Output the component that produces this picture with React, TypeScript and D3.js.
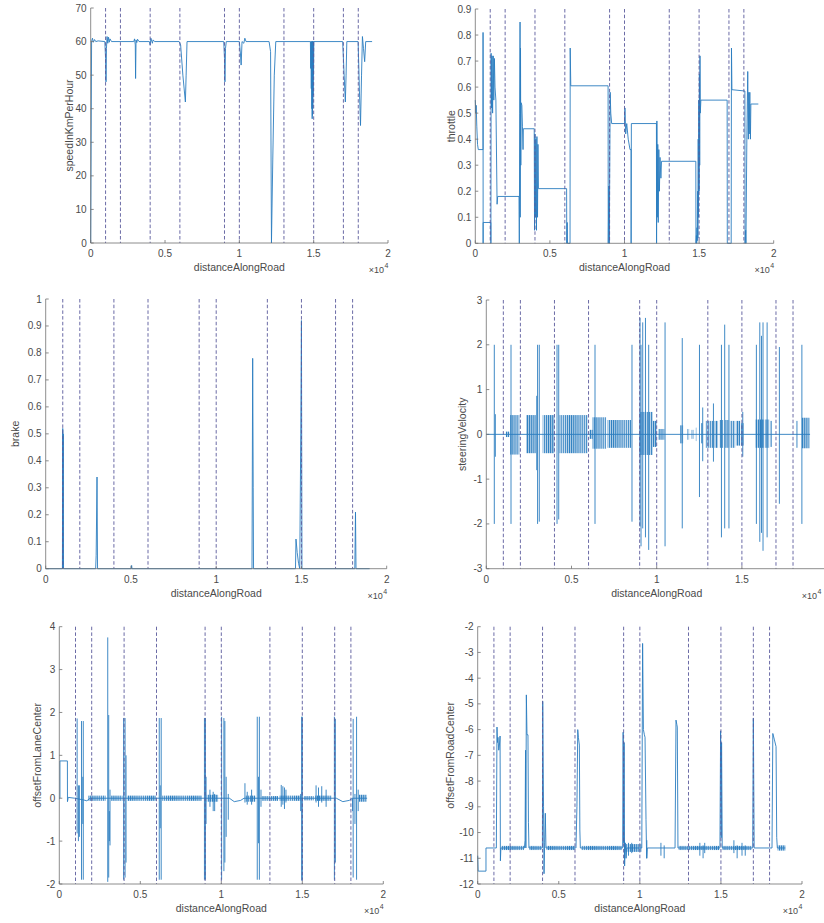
import React from "react";
import * as d3 from "d3";

type Pt = [number, number];
type Band = [number, number, number, number]; // x0, x1, hi, lo
type Spike = [number, number, number]; // x, hi, lo

// ---------- shared axis data ----------
const xTickValues = [0, 5000, 10000, 15000, 20000];
const xTickLabels = ["0", "0.5", "1", "1.5", "2"];
const eventDistances = [1000, 2000, 4000, 6000, 9000, 10000, 13000, 15000, 17000, 18000];

// ---------- speedInKmPerHour ----------
const speedTicks = [0, 10, 20, 30, 40, 50, 60, 70];
const speedTrace: Pt[] = [
  [0, 0], [60, 60], [120, 61], [180, 59.8], [260, 60.6], [340, 60], [500, 60.2], [950, 60],
  [1000, 55], [1030, 48], [1060, 58], [1100, 61.5], [1150, 59.5], [1200, 61.3], [1250, 59.8],
  [1300, 60.8], [1400, 60], [2900, 60], [2950, 60.8], [3000, 59], [3020, 49], [3050, 60.5],
  [3100, 59.7], [3150, 60.7], [3250, 60], [3950, 60], [4000, 59], [4050, 61], [4150, 59.5],
  [4200, 60.5], [4300, 60], [5950, 60], [6050, 59], [6200, 50], [6370, 42], [6420, 50],
  [6480, 60], [8950, 60], [9000, 55], [9030, 48], [9070, 58], [9120, 60], [10000, 60],
  [10080, 56], [10120, 53], [10180, 60], [10300, 59.5], [10370, 61], [10450, 60], [12000, 60],
  [12100, 57], [12160, 0], [12250, 25], [12350, 50], [12450, 60], [14750, 60],
  [14780, 60], [14800, 52], [14820, 60], [14840, 46], [14860, 60], [14880, 40], [14890, 60],
  [14900, 37], [14910, 60], [14920, 38], [14930, 60], [14940, 40], [14950, 60], [14960, 44],
  [14975, 60], [14990, 50], [15010, 60], [16950, 60], [17050, 50], [17130, 42], [17180, 50],
  [17230, 60], [17990, 60], [18080, 45], [18150, 35], [18220, 50], [18280, 61.5], [18350, 58],
  [18430, 54], [18500, 60], [18930, 60],
];

// ---------- throttle ----------
const throttleTicks = [0, 0.1, 0.2, 0.3, 0.4, 0.5, 0.6, 0.7, 0.8, 0.9];
const throttleTrace: Pt[] = [
  [0, 0.55], [30, 0.5], [60, 0.53], [100, 0.45], [150, 0.38], [200, 0.36], [520, 0.36],
  [520, 0.81], [525, 0], [525, 0.08], [1040, 0.08], [1045, 0], [1060, 0.73], [1090, 0.52],
  [1120, 0.72], [1160, 0.5], [1200, 0.72], [1240, 0.55], [1280, 0.71], [1320, 0.6],
  [1380, 0.55], [1460, 0.15], [1500, 0.18], [2930, 0.18], [2950, 0], [2980, 0.5], [3000, 0.85],
  [3010, 0.1], [3030, 0.75], [3050, 0.3], [3070, 0.54], [3120, 0.53], [3160, 0.45],
  [3200, 0.36], [3220, 0.44], [3950, 0.44], [3970, 0.05], [4000, 0.42], [4030, 0.1],
  [4060, 0.4], [4100, 0.05], [4130, 0.41], [4170, 0.1], [4200, 0.38], [4230, 0.21],
  [6120, 0.21], [6130, 0], [6160, 0.08], [6180, 0], [6350, 0], [6360, 0.75], [6400, 0.605],
  [8900, 0.605], [8910, 0], [8950, 0.22], [8980, 0], [9040, 0.58], [9080, 0.5], [9140, 0.46],
  [10000, 0.46], [10030, 0.52], [10080, 0.42], [10150, 0.46], [10250, 0.4], [10370, 0.36],
  [10440, 0.36], [10445, 0], [10460, 0.46], [12140, 0.46], [12150, 0], [12170, 0.47],
  [12200, 0.1], [12230, 0.38], [12260, 0.08], [12300, 0.36], [12340, 0.2], [12380, 0.33],
  [12440, 0.25], [12480, 0.315], [14780, 0.315], [14790, 0], [14820, 0.03], [14840, 0],
  [14860, 0.06], [14880, 0.01], [14900, 0.2], [14920, 0.02], [14940, 0.4], [14960, 0.1],
  [14980, 0.55], [15000, 0.2], [15020, 0.65], [15040, 0.3], [15060, 0.72], [15080, 0.5],
  [15120, 0.55], [16880, 0.55], [16890, 0], [17150, 0], [17170, 0.75], [17200, 0.59],
  [18070, 0.585], [18080, 0], [18120, 0.05], [18140, 0], [18200, 0.4], [18260, 0.66],
  [18300, 0.4], [18330, 0.58], [18360, 0.42], [18400, 0.58], [18440, 0.4], [18470, 0.535],
  [18970, 0.535],
];

// ---------- brake ----------
const brakeTicks = [0, 0.1, 0.2, 0.3, 0.4, 0.5, 0.6, 0.7, 0.8, 0.9, 1];
const brakeTrace: Pt[] = [
  [0, 0], [980, 0], [1000, 0.52], [1010, 0], [1030, 0.5], [1045, 0], [2930, 0], [2960, 0.05],
  [3010, 0.34], [3040, 0], [5020, 0], [5040, 0.012], [5060, 0], [12100, 0], [12140, 0.78],
  [12170, 0.3], [12190, 0], [14650, 0], [14680, 0.11], [14750, 0.06], [14830, 0.02],
  [14900, 0], [14960, 0.5], [15000, 0.92], [15030, 0], [18130, 0], [18170, 0.21],
  [18200, 0], [19000, 0],
];

// ---------- steeringVelocity ----------
const steerTicks = [-3, -2, -1, 0, 1, 2, 3];
const steerTrace: Pt[] = [[0, 0], [19000, 0]];
const steerBands: Band[] = [
  [1150, 1350, 0.06, -0.06], [1400, 1940, 0.43, -0.45], [2330, 2920, 0.43, -0.42],
  [3310, 3990, 0.43, -0.42], [4290, 5950, 0.43, -0.42], [6050, 6240, 0.1, -0.1],
  [6240, 7030, 0.38, -0.32], [7120, 8500, 0.32, -0.3], [8980, 9770, 0.5, -0.46],
  [9770, 10000, 0.3, -0.28], [10100, 10450, 0.12, -0.12], [11370, 11550, 0.2, -0.2],
  [11800, 11900, 0.12, -0.12], [12050, 12150, 0.1, -0.1], [12300, 12350, 0.15, -0.15],
  [12600, 12700, 0.25, -0.2], [12880, 13340, 0.3, -0.3], [13400, 13600, 0.3, -0.3],
  [13700, 13900, 0.32, -0.3], [14000, 14250, 0.32, -0.3], [14300, 14600, 0.3, -0.3],
  [14650, 14900, 0.3, -0.25], [14950, 15100, 0.25, -0.25], [15780, 16000, 0.33, -0.3],
  [16050, 16300, 0.33, -0.3], [16350, 16600, 0.33, -0.3], [16650, 16760, 0.3, -0.28],
  [18520, 18970, 0.37, -0.31],
];
const steerSpikes: Spike[] = [
  [470, 2.0, -2.0], [530, 0.45, -0.5], [1450, 2.0, -2.0], [2960, 0.86, -0.8], [3010, 2.0, -2.0],
  [3110, 2.0, -1.95], [4150, 2.0, -2.0], [4250, 2.0, -1.9], [6380, 2.0, -2.0], [8550, 2.0, -1.95],
  [9020, 2.6, -2.06], [9080, 2.0, -2.5], [9180, 2.5, -2.1], [9340, 2.6, -2.3], [9530, 2.0, -2.58],
  [10490, 2.5, -2.5], [11500, 2.15, -2.1], [12510, 2.0, -1.4], [12700, 0.6, -0.6],
  [13330, 0.69, -0.61], [13800, 2.0, -2.3], [13990, 2.45, -2.1], [14240, 2.0, -2.1],
  [15050, 0.5, -0.5], [15850, 2.0, -2.0], [16050, 2.5, -2.4], [16150, 2.2, -2.2],
  [16240, 2.5, -2.6], [16480, 2.5, -2.3], [17200, 1.95, -1.55], [18230, 0.3, -0.3],
  [18520, 2.0, -2.0],
];

// ---------- offsetFromLaneCenter ----------
const laneTicks = [-2, -1, 0, 1, 2, 3, 4];
const laneTrace: Pt[] = [
  [0, 0], [40, 0], [40, 0.87], [500, 0.87], [505, -0.08], [550, 0.02], [950, 0], [1500, -0.04],
  [1700, -0.06], [1900, 0], [10500, 0], [10800, -0.08], [11200, -0.05], [11400, 0],
  [17100, 0], [17500, -0.08], [17900, -0.05], [18100, 0], [19000, 0],
];
const laneBands: Band[] = [
  [1800, 2850, 0.06, -0.06], [3200, 3900, 0.06, -0.06], [4200, 5950, 0.06, -0.06],
  [6350, 8800, 0.06, -0.06], [9100, 9800, 0.08, -0.08], [11500, 12100, 0.06, -0.08],
  [12500, 13500, 0.05, -0.06], [13600, 14900, 0.06, -0.06], [15100, 15700, 0.05, -0.05],
  [15800, 16800, 0.06, -0.06], [18500, 18970, 0.08, -0.08],
];
const laneSpikes: Spike[] = [
  [1100, 1.86, -0.82], [1180, 0.3, -1.0], [1240, 0.3, -0.9], [1370, 1.8, -1.9], [1450, 0.5, -0.6],
  [1480, 1.8, -1.9], [2990, 3.75, -1.95], [3050, 1.94, -1.85], [3090, -0.3, -1.0],
  [3130, 0.2, -1.1], [3970, 1.87, -1.9], [4060, 1.87, -1.85], [4120, 1.0, -1.5],
  [6170, 1.87, -1.9], [6230, 0.3, -0.7], [6290, 1.87, -1.9], [8960, 1.87, -1.9],
  [9020, 1.87, -1.9], [9060, 0.5, -0.6], [9300, 0.2, -0.2], [9500, 0.15, -0.3],
  [9590, 0.1, -0.3], [10020, 1.9, -1.9], [10160, 1.87, -1.7], [10220, 1.8, -1.5],
  [10300, 0.5, -0.9], [10430, 0.1, -0.5], [11460, 0.35, -0.1], [11600, 0.15, -0.15],
  [11870, 0.2, -0.15], [12220, 1.9, -1.9], [12300, 0.5, -1.05], [12350, 1.9, -1.9],
  [12450, 0.2, -0.2], [13700, 0.31, -0.2], [13800, 0.28, -0.15], [13900, 0.25, -0.25],
  [13990, 0.2, -0.1], [14900, 0.1, -0.3], [14960, 1.9, -1.92], [15000, 1.9, -1.9],
  [15850, 0.3, -0.1], [16000, 0.25, -0.2], [16200, 0.28, -0.1], [16470, 0.2, -0.2],
  [16980, 1.9, -1.9], [17040, 1.85, -1.5], [18100, 0, -0.3], [18140, 1.85, -1.85],
  [18250, 0.1, -0.6], [18350, 1.9, -1.9], [18450, 0.2, -0.3],
];

// ---------- offsetFromRoadCenter ----------
const roadTicks = [-12, -11, -10, -9, -8, -7, -6, -5, -4, -3, -2];
const roadTrace: Pt[] = [
  [0, -10.9], [30, -11.5], [510, -11.5], [510, -10.6], [1150, -10.6], [1190, -5.9],
  [1220, -6.5], [1250, -6.3], [1300, -6.8], [1340, -6.6], [1380, -6.25], [1400, -11.1],
  [1430, -10.6], [2880, -10.6], [2920, -10.3], [2950, -6.8], [2970, -10.6], [3000, -4.65],
  [3040, -6.2], [3100, -6.2], [3130, -9.6], [3160, -10.6], [3990, -10.6], [4010, -4.9],
  [4060, -9.0], [4090, -11.6], [4130, -10.4], [4170, -9.25], [4210, -10.6], [6060, -10.6],
  [6120, -9.0], [6170, -6.0], [6210, -6.3], [6270, -6.6], [6300, -9.9], [6330, -10.6],
  [8940, -10.6], [8970, -6.1], [9000, -10.4], [9030, -6.5], [9060, -11.3], [9100, -10.4],
  [9150, -11.0], [9200, -10.6], [10120, -10.6], [10170, -2.65], [10220, -6.0], [10280, -6.2],
  [10320, -6.3], [10380, -9.5], [10420, -11.0], [10460, -10.6], [12170, -10.6],
  [12230, -5.63], [12280, -5.8], [12310, -5.9], [12350, -10.6], [14940, -10.6],
  [14980, -6.05], [15020, -10.2], [15040, -6.5], [15080, -10.6], [16960, -10.6],
  [17000, -5.56], [17050, -10.6], [18150, -10.6], [18200, -6.15], [18300, -6.4],
  [18400, -6.66], [18440, -10.2], [18480, -10.6], [18970, -10.6],
];
const roadBands: Band[] = [
  [1450, 2850, -10.52, -10.68], [3200, 3950, -10.52, -10.68], [4250, 6000, -10.52, -10.68],
  [6400, 8900, -10.52, -10.68], [9100, 10100, -10.45, -10.75], [12400, 14900, -10.52, -10.68],
  [15100, 16900, -10.52, -10.68], [18500, 18970, -10.5, -10.7],
];
const roadSpikes: Spike[] = [
  [9050, -10.3, -11.0], [9300, -10.4, -10.9], [9500, -10.4, -10.8], [10430, -10.3, -11.0],
  [11300, -10.4, -10.9], [11500, -10.5, -11.0], [13700, -10.4, -10.9], [13900, -10.5, -11.0],
  [14000, -10.4, -10.8], [15800, -10.3, -10.8], [16000, -10.5, -11.0], [16300, -10.4, -10.9],
  [16500, -10.5, -10.9],
];

// ---------- styling ----------
const W = 824;
const H = 923;
const LINE = "#2a7dbf";
const EVENT = "#5a5a9c";
const AXIS = "#707070";
const TEXT = "#4a4a4a";
const FONT = "'Liberation Sans', Arial, Helvetica, sans-serif";

type Box = { l: number; r: number; t: number; b: number };

function fmt(v: number) {
  return String(+v.toFixed(2));
}

function Panel(props: {
  id: string;
  box: Box;
  yDomain: [number, number];
  yTicks: number[];
  ylabel: string;
  ylabelGap: number;
  trace: Pt[];
  bands?: Band[];
  spikes?: Spike[];
}) {
  const { id, box, yDomain, yTicks, ylabel, ylabelGap, trace, bands = [], spikes = [] } = props;
  const x = d3.scaleLinear().domain([0, 20000]).range([box.l, box.r]);
  const y = d3.scaleLinear().domain(yDomain).range([box.b, box.t]);
  const line = d3.line<Pt>().x((d) => x(d[0])).y((d) => y(d[1]));
  const midY = (box.t + box.b) / 2;
  // exponent label: keep inside the page
  const expEnd = Math.min(box.r - 4, W - 7);
  return (
    <g>
      <defs>
        <pattern id={`hatch-${id}`} width={2.1} height={4} patternUnits="userSpaceOnUse">
          <rect x={0} y={0} width={1.0} height={4} fill={LINE} />
        </pattern>
      </defs>
      {/* bands of dense oscillation */}
      {bands.map((d, i) => (
        <g key={`b${i}`}>
          <rect x={x(d[0])} y={y(d[2])} width={x(d[1]) - x(d[0])} height={y(d[3]) - y(d[2])}
            fill={LINE} fillOpacity={0.25} />
          <rect x={x(d[0])} y={y(d[2])} width={x(d[1]) - x(d[0])} height={y(d[3]) - y(d[2])}
            fill={`url(#hatch-${id})`} />
        </g>
      ))}
      <path d={line(trace) || ""} fill="none" stroke={LINE} strokeWidth={0.9} strokeLinejoin="round" />
      {spikes.map((d, i) => (
        <line key={`s${i}`} x1={x(d[0])} x2={x(d[0])} y1={y(d[1])} y2={y(d[2])}
          stroke={LINE} strokeWidth={0.9} />
      ))}
      {/* event lines */}
      {eventDistances.map((e) => (
        <line key={`e${e}`} x1={x(e)} x2={x(e)} y1={box.t} y2={box.b}
          stroke={EVENT} strokeWidth={0.9} strokeDasharray="3.5,2.2" />
      ))}
      {/* axes */}
      <line x1={box.l} x2={box.l} y1={box.t} y2={box.b} stroke={AXIS} strokeWidth={0.8} />
      <line x1={box.l} x2={box.r} y1={box.b} y2={box.b} stroke={AXIS} strokeWidth={0.8} />
      {yTicks.map((v) => (
        <g key={`yt${v}`}>
          <line x1={box.l} x2={box.l + 3} y1={y(v)} y2={y(v)} stroke={AXIS} strokeWidth={0.8} />
          <text x={box.l - 4} y={y(v)} textAnchor="end" dominantBaseline="central"
            fontSize={10} fill={TEXT} fontFamily={FONT}>{fmt(v)}</text>
        </g>
      ))}
      {xTickValues.map((v, i) => (
        <g key={`xt${v}`}>
          <line x1={x(v)} x2={x(v)} y1={box.b} y2={box.b - 3} stroke={AXIS} strokeWidth={0.8} />
          {x(v) + 4 <= W ? (
            <text x={x(v)} y={box.b + 14} textAnchor="middle" fontSize={10} fill={TEXT}
              fontFamily={FONT}>{xTickLabels[i]}</text>
          ) : null}
        </g>
      ))}
      <text x={(box.l + box.r) / 2} y={box.b + 28} textAnchor="middle" fontSize={10.5}
        fill={TEXT} fontFamily={FONT}>distanceAlongRoad</text>
      <text x={expEnd} y={box.b + 30} textAnchor="end" fontSize={9} fill={TEXT} fontFamily={FONT}>
        ×10
      </text>
      <text x={expEnd + 0.5} y={box.b + 25} textAnchor="start" fontSize={7} fill={TEXT} fontFamily={FONT}>
        4
      </text>
      <text transform={`translate(${box.l - ylabelGap},${midY}) rotate(-90)`} textAnchor="middle"
        dominantBaseline="central" fontSize={10.5} fill={TEXT} fontFamily={FONT}>{ylabel}</text>
    </g>
  );
}

export default function App() {
  return (
    <svg width={W} height={H} viewBox={`0 0 ${W} ${H}`}
      style={{ position: "absolute", left: 0, top: 0, display: "block", background: "#fff" }}>
      <rect x={0} y={0} width={W} height={H} fill="#fff" />
      <Panel id="p1" box={{ l: 90.7, r: 388, t: 8, b: 243 }} yDomain={[0, 70]} yTicks={speedTicks}
        ylabel="speedInKmPerHour" ylabelGap={22} trace={speedTrace} />
      <Panel id="p2" box={{ l: 475.3, r: 773.7, t: 9, b: 243.3 }} yDomain={[0, 0.9]} yTicks={throttleTicks}
        ylabel="throttle" ylabelGap={24} trace={throttleTrace} />
      <Panel id="p3" box={{ l: 45.7, r: 386.7, t: 299, b: 568.7 }} yDomain={[0, 1]} yTicks={brakeTicks}
        ylabel="brake" ylabelGap={31} trace={brakeTrace} />
      <Panel id="p4" box={{ l: 486.3, r: 827.1, t: 300, b: 568.7 }} yDomain={[-3, 3]} yTicks={steerTicks}
        ylabel="steeringVelocity" ylabelGap={24} trace={steerTrace} bands={steerBands} spikes={steerSpikes} />
      <Panel id="p5" box={{ l: 59.3, r: 383.3, t: 626.7, b: 884 }} yDomain={[-2, 4]} yTicks={laneTicks}
        ylabel="offsetFromLaneCenter" ylabelGap={22} trace={laneTrace} bands={laneBands} spikes={laneSpikes} />
      <Panel id="p6" box={{ l: 477.7, r: 802, t: 626.7, b: 884 }} yDomain={[-12, -2]} yTicks={roadTicks}
        ylabel="offsetFromRoadCenter" ylabelGap={28} trace={roadTrace} bands={roadBands} spikes={roadSpikes} />
    </svg>
  );
}
